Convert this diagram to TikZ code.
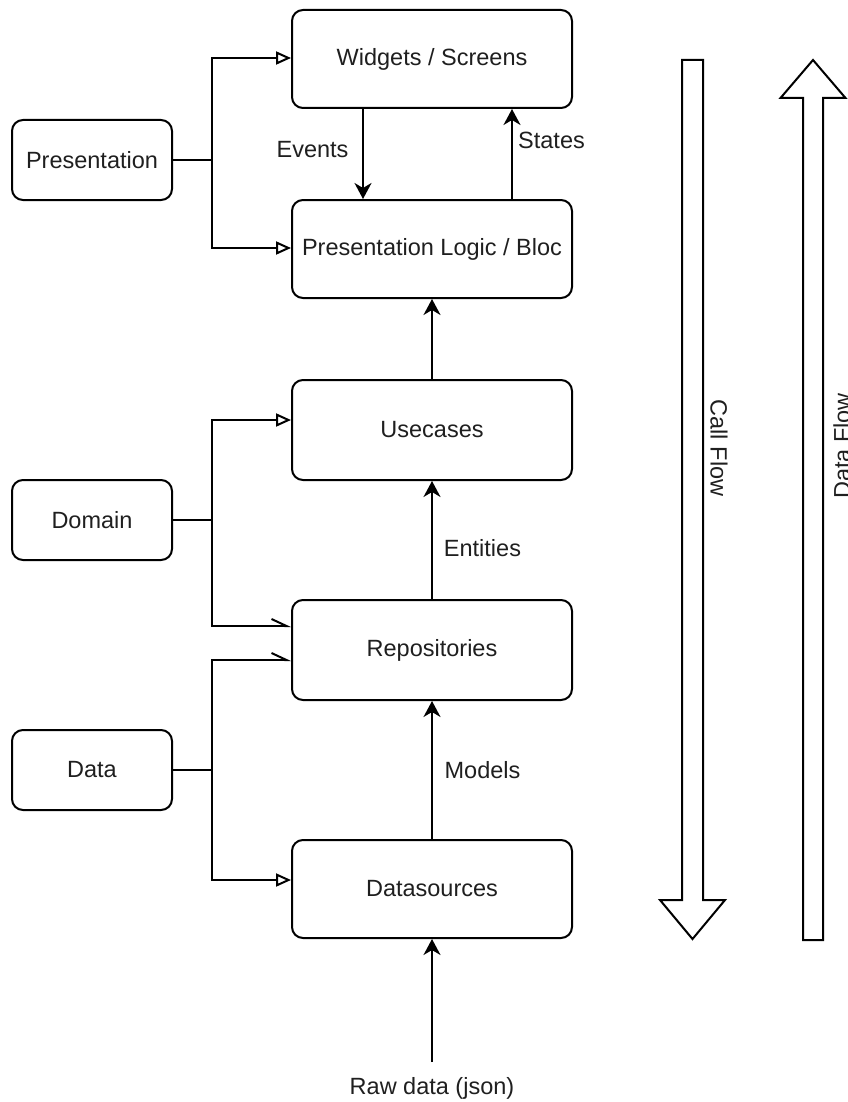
\documentclass[tikz,border=0pt]{standalone}
\usepackage{fontspec}
\setmainfont{Liberation Sans}
\usetikzlibrary{arrows.meta,calc}
\begin{document}
\begin{tikzpicture}[x=0.5pt,y=-0.5pt,
  every node/.style={font=\fontsize{11.75pt}{14pt}\selectfont, text=black!88},
  layerbox/.style={draw, line width=1pt, rounded corners=5.5pt, minimum width=140pt, minimum height=49pt, inner sep=0pt},
  groupbox/.style={draw, line width=1pt, rounded corners=5.5pt, minimum width=80pt, minimum height=40pt, inner sep=0pt},
  wire/.style={line width=1pt},
  flow/.style={wire, -{Stealth[length=8pt, width=8.5pt, inset=2.5pt]}},
  member/.style={wire, -{Triangle[open, length=7.5pt, width=6.5pt, fill=white]}},
  halfmember/.style={wire, -{Straight Barb[harpoon, length=7.5pt, width=7pt]}},
  bigarrow/.style={draw, line width=1pt, line join=miter, fill=white},
  sidelabel/.style={inner sep=0pt}
]
\useasboundingbox (0,0) rectangle (847,1102);

% layer boxes
\node[layerbox] (widgets) at (432,59) {Widgets / Screens};
\node[layerbox] (logic)   at (432,249) {Presentation Logic / Bloc};
\node[layerbox, minimum height=50pt] (usecases) at (432,430) {Usecases};
\node[layerbox, minimum height=50pt] (repos)    at (432,650) {Repositories};
\node[layerbox] (sources) at (432,889) {Datasources};

% group boxes on the left
\node[groupbox] (pres)   at (92,160) {Presentation};
\node[groupbox] (domain) at (92,520) {Domain};
\node[groupbox] (data)   at (92,770) {Data};

% group buses
\draw[wire] (pres.east) -- (212,160) coordinate (pbus);
\draw[member] (pbus) |- ($(widgets.west)+(0,-1)$);
\draw[member] (pbus) |- ($(logic.west)+(0,-1)$);

\draw[wire] (domain.east) -- (212,520) coordinate (dbus);
\draw[member] (dbus) |- ($(usecases.west)+(0,-10)$);
\draw[halfmember] (dbus) |- ($(repos.west)+(0,-24)$);

\draw[wire] (data.east) -- (212,770) coordinate (abus);
\draw[halfmember] (abus) |- ($(repos.west)+(0,10)$);
\draw[member] (abus) |- ($(sources.west)+(0,-9)$);

% events and states between widgets and logic
\draw[flow] (widgets.south -| 363,0) -- (logic.north -| 363,0);
\draw[flow] (logic.north -| 512,0) -- (widgets.south -| 512,0);
\node[sidelabel] (events) at (312.5,150) {Events};
\node[sidelabel] (states) at (551.5,140) {States};

% data passing upwards
\draw[flow] (usecases.north) -- (logic.south);
\draw[flow] (repos.north) -- (usecases.south);
\draw[flow] (sources.north) -- (repos.south);
\node[sidelabel] (entities) at (482.5,548) {Entities};
\node[sidelabel] (models)   at (482.5,770) {Models};

\coordinate (rawend) at (432,1062);
\draw[flow] (rawend) -- (sources.south);
\node[sidelabel] (raw) at (432,1088) {Raw data (json)};

% call flow (downwards) and data flow (upwards)
\draw[bigarrow] (682,60) -- (703,60) -- (703,900) -- (725,900) -- (692.5,939)
  -- (660,900) -- (682,900) -- cycle;
\node[sidelabel, rotate=-90] (callflow) at (719,448) {Call Flow};

\draw[bigarrow] (813,60) -- (845.5,98) -- (823,98) -- (823,940) -- (803,940)
  -- (803,98) -- (780.5,98) -- cycle;
\node[sidelabel, rotate=90] (dataflow) at (842,446) {Data Flow};
\end{tikzpicture}
\end{document}
